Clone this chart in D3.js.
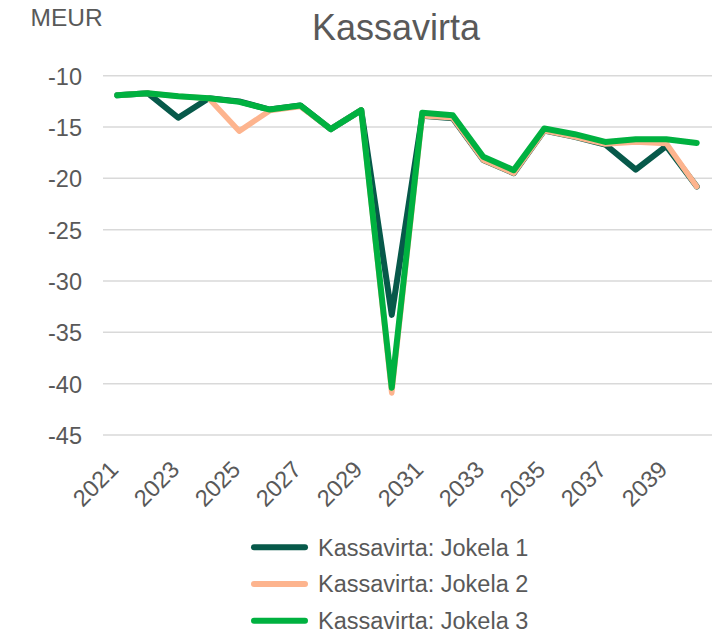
<!DOCTYPE html>
<html>
<head>
<meta charset="utf-8">
<script src="https://cdn.jsdelivr.net/npm/d3@7"></script>
<style>
body { margin: 0; background: #fff; }
svg { font-family: "Liberation Sans", Arial, sans-serif; }
</style>
</head>
<body>
<svg width="714" height="633"></svg>
<script>
// data
var years = [2021, 2022, 2023, 2024, 2025, 2026, 2027, 2028, 2029, 2030,
             2031, 2032, 2033, 2034, 2035, 2036, 2037, 2038, 2039, 2040];
var jokela1 = [-11.9, -11.7, -14.1, -12.2, -12.5, -13.3, -12.9, -15.2, -13.35, -33.3,
               -13.9, -14.15, -18.2, -19.5, -15.35, -15.95, -16.7, -19.15, -16.85, -20.8];
var jokela2 = [-11.9, -11.7, -12.0, -12.2, -15.4, -13.4, -13.0, -15.2, -13.35, -40.9,
               -13.9, -14.1, -18.2, -19.5, -15.35, -15.95, -16.65, -16.45, -16.6, -20.8];
var jokela3 = [-11.9, -11.7, -12.0, -12.2, -12.55, -13.3, -12.9, -15.2, -13.35, -40.4,
               -13.6, -13.85, -17.9, -19.2, -15.15, -15.7, -16.45, -16.2, -16.2, -16.55];
var yTicks = [-10, -15, -20, -25, -30, -35, -40, -45];
var xLabels = [2021, 2023, 2025, 2027, 2029, 2031, 2033, 2035, 2037, 2039];
var seriesNames = ['Kassavirta: Jokela 1', 'Kassavirta: Jokela 2', 'Kassavirta: Jokela 3'];
var colors = ['#07594A', '#FDB48E', '#00B140'];

var svg = d3.select('svg');
var textColor = '#595959';

var x = d3.scalePoint().domain(years).range([102, 712]).padding(0.5);
var y = d3.scaleLinear().domain([-10, -45]).range([75.7, 435]);

// gridlines
svg.append('g').selectAll('line')
    .data(yTicks)
    .enter().append('line')
    .attr('x1', 103)
    .attr('x2', 712)
    .attr('y1', function(d) { return y(d); })
    .attr('y2', function(d) { return y(d); })
    .style('stroke', '#d9d9d9')
    .style('stroke-width', 1.5);

// y axis labels (plain hyphen, not unicode minus)
var yAxis = d3.axisLeft(y).tickValues(yTicks).tickSize(0).tickPadding(0)
    .tickFormat(function(d) { return String(d); });
var gY = svg.append('g')
    .attr('transform', 'translate(82,0)')
    .call(yAxis);
gY.select('.domain').remove();
gY.selectAll('text')
    .style('font-size', '23.5px')
    .style('font-family', '"Liberation Sans", Arial, sans-serif')
    .style('fill', textColor)
    .attr('dy', '0.36em');

// x axis labels, rotated
var xAxis = d3.axisBottom(x).tickValues(xLabels).tickSize(0).tickPadding(0)
    .tickFormat(function(d) { return String(d); });
var gX = svg.append('g')
    .attr('transform', 'translate(0,435)')
    .call(xAxis);
gX.select('.domain').remove();
gX.selectAll('text')
    .style('font-size', '23.5px')
    .style('font-family', '"Liberation Sans", Arial, sans-serif')
    .style('fill', textColor)
    .style('text-anchor', 'end')
    .attr('y', 0)
    .attr('dy', 0)
    .attr('transform', 'translate(2,36) rotate(-45)');

// lines
var line = d3.line()
    .x(function(d, i) { return x(years[i]); })
    .y(function(d) { return y(d); });

var allSeries = [jokela1, jokela2, jokela3];
var widths = [6, 5.5, 6];
svg.append('g').selectAll('path')
    .data(allSeries)
    .enter().append('path')
    .attr('d', line)
    .style('fill', 'none')
    .style('stroke', function(d, i) { return colors[i]; })
    .style('stroke-width', function(d, i) { return widths[i]; })
    .style('stroke-linejoin', 'round')
    .style('stroke-linecap', 'round');

// title + unit
svg.append('text')
    .attr('x', 396)
    .attr('y', 40)
    .attr('text-anchor', 'middle')
    .style('font-size', '36px')
    .style('fill', textColor)
    .text('Kassavirta');

svg.append('text')
    .attr('x', 30.5)
    .attr('y', 26)
    .style('font-size', '24.5px')
    .style('fill', textColor)
    .text('MEUR');

// legend
var legend = svg.append('g').selectAll('g')
    .data(seriesNames)
    .enter().append('g')
    .attr('transform', function(d, i) { return 'translate(0,' + (547.3 + i * 36.7) + ')'; });

legend.append('line')
    .attr('x1', 254)
    .attr('x2', 305)
    .style('stroke', function(d, i) { return colors[i]; })
    .style('stroke-width', 6)
    .style('stroke-linecap', 'round');

legend.append('text')
    .attr('x', 318)
    .attr('dy', '0.36em')
    .style('font-size', '23.5px')
    .style('fill', textColor)
    .text(function(d) { return d; });
</script>
</body>
</html>
